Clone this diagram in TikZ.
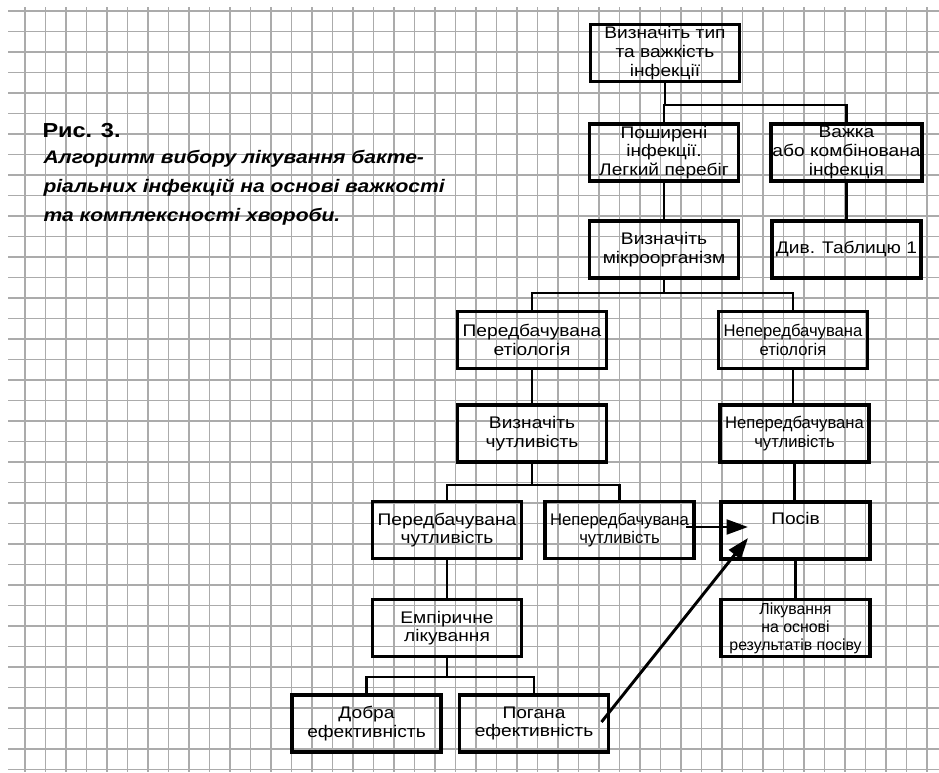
\documentclass[tikz,border=0pt]{standalone}
\usepackage{fontspec}
\setmainfont{Liberation Sans}
\newfontfamily\boxfont{Liberation Sans}[FakeStretch=1.14]
\newfontfamily\narrowfont{Liberation Sans}[FakeStretch=0.99]
\newfontfamily\capfont{Liberation Sans}[FakeStretch=1.16]
\usetikzlibrary{arrows.meta}

\tikzset{every picture/.style={line width=0.75pt}}
\tikzset{
  gridline/.style={draw=black!33, line width=1.4pt},
  stepbox/.style={draw, line width=2.7pt, minimum width=112pt, minimum height=43pt, inner sep=1pt, align=center, font=\boxfont\fontsize{12.6}{14}\selectfont},
  narrowbox/.style={stepbox, font=\narrowfont\fontsize{12.6}{14}\selectfont},
  link/.style={line width=2.2pt},
  jump/.style={line width=2.2pt, -{Triangle[length=16pt,width=11pt]}},
}

\begin{document}
\begin{tikzpicture}[x=0.75pt,y=0.75pt,yscale=-1,xscale=1]
	\useasboundingbox (0,0) rectangle (939,772);
	
	% Grid
	\foreach \i in {0,...,44} \draw[gridline] (25+20.5*\i,7) -- (25+20.5*\i,772);
	\foreach \j in {0,...,37} \draw[gridline] (8,11+20.5*\j) -- (939,11+20.5*\j);
	
	% Caption
	\node [anchor=base west, inner sep=0pt, font=\capfont\bfseries\fontsize{15.2}{21.5}\selectfont] (figno) at (42,137) {Рис. 3.};
	\node [anchor=north west, inner sep=0pt, align=left, font=\capfont\bfseries\itshape\fontsize{13.6}{21.5}\selectfont] (figcap) at (43,150) {Алгоритм вибору лікування бакте-\\ріальних інфекцій на основі важкості\\та комплексності хвороби.};
	
	% Text Node
	\node [stepbox] (kind) at (665,53) {Визначіть тип\\та важкість\\інфекції};
	% Text Node
	\node [stepbox] (common) at (664,152.5) {Поширені\\інфекції.\\Легкий перебіг};
	% Text Node
	\node [stepbox] (severe) at (846.5,152.5) {Важка\\або комбінована\\інфекція};
	% Text Node
	\node [stepbox] (micro) at (664,249.5) {Визначіть\\мікроорганізм};
	% Text Node
	\node [stepbox] (table) at (846.5,249.5) {Див. Таблицю 1};
	% Text Node
	\node [stepbox] (predEt) at (532,340) {Передбачувана\\етіологія};
	% Text Node
	\node [narrowbox] (unpredEt) at (793,340) {Непередбачувана\\етіологія};
	% Text Node
	\node [stepbox] (detSens) at (532,433.5) {Визначіть\\чутливість};
	% Text Node
	\node [narrowbox] (unpredSens) at (794.5,433.5) {Непередбачувана\\чутливість};
	% Text Node
	\node [stepbox] (predSens) at (447,530) {Передбачувана\\чутливість};
	% Text Node
	\node [narrowbox] (unpredSensB) at (619.5,530) {Непередбачувана\\чутливість};
	% Text Node
	\node [stepbox] (culture) at (795.5,530.5) {Посів\\ \strut};
	% Text Node
	\node [stepbox] (empiric) at (447,628) {Емпіричне\\лікування};
	% Text Node
	\node [narrowbox, font=\narrowfont\fontsize{12}{13.6}\selectfont] (treatCulture) at (795.5,628) {Лікування\\на основі\\результатів посіву};
	% Text Node
	\node [stepbox] (good) at (366.5,723.5) {Добра\\ефективність};
	% Text Node
	\node [stepbox] (poor) at (534,723.5) {Погана\\ефективність};
	
	% Forks
	\coordinate (forkA) at (665,105);
	\coordinate (forkB) at (664,293);
	\coordinate (forkC) at (532,485);
	\coordinate (forkD) at (447,677);
	\coordinate (hitA) at (748,527);
	\coordinate (hitB) at (748,538);
	
	% Connection
	\draw [link] (kind.south) -- (forkA) -| (common.north);
	\draw [link] (forkA) -| (severe.north);
	% Connection
	\draw [link] (common) -- (micro);
	\draw [link] (severe) -- (table);
	% Connection
	\draw [link] (micro.south) -- (forkB) -| (predEt.north);
	\draw [link] (forkB) -| (unpredEt.north);
	% Connection
	\draw [link] (predEt) -- (detSens);
	\draw [link] (unpredEt.south) -- (unpredEt.south |- unpredSens.north);
	% Connection
	\draw [link] (detSens.south) -- (forkC) -| (predSens.north);
	\draw [link] (forkC) -| (unpredSensB.north);
	% Connection
	\draw [link] (unpredSens.south) -- (unpredSens.south |- culture.north);
	\draw [link] (predSens) -- (empiric);
	\draw [link] (culture) -- (treatCulture);
	% Connection
	\draw [link] (empiric.south) -- (forkD) -| (good.north);
	\draw [link] (forkD) -| (poor.north);
	% Connection
	\draw [jump] (unpredSensB.east) ++(-10,-3) -- (hitA);
	\draw [jump] (poor.east) ++(-9,-1.5) -- (hitB);
	
\end{tikzpicture}
\end{document}
